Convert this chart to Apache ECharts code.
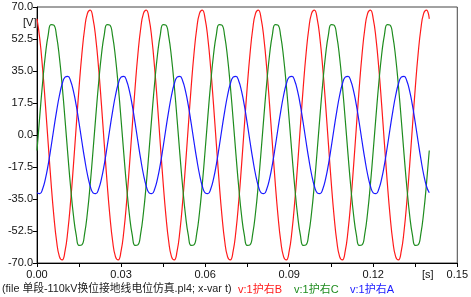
<!DOCTYPE html>
<html>
<head>
<meta charset="utf-8">
<script src="https://cdn.jsdelivr.net/npm/echarts@6/dist/echarts.min.js"></script>
<style>
html,body{margin:0;padding:0;background:#fff;}
#chart{width:471px;height:297px;}
</style>
</head>
<body>
<div id="chart"></div>
<script>
// sampling grid of the traces (seconds)
const sampleStep = 0.001;
const sampleCount = 141;

// v:1护右B (red)
const seriesB = [
  63.5,52.5,36.3,16.6,-4.8,-25.7,-44.0,-58.1,-66.5,-68.3,-63.5,-52.5,-36.3,-16.6,4.8,25.7,44.0,58.1,66.5,68.3,
  63.5,52.5,36.3,16.6,-4.8,-25.7,-44.0,-58.1,-66.5,-68.3,-63.5,-52.5,-36.3,-16.6,4.8,25.7,44.0,58.1,66.5,68.3,
  63.5,52.5,36.3,16.6,-4.8,-25.7,-44.0,-58.1,-66.5,-68.3,-63.5,-52.5,-36.3,-16.6,4.8,25.7,44.0,58.1,66.5,68.3,
  63.5,52.5,36.3,16.6,-4.8,-25.7,-44.0,-58.1,-66.5,-68.3,-63.5,-52.5,-36.3,-16.6,4.8,25.7,44.0,58.1,66.5,68.3,
  63.5,52.5,36.3,16.6,-4.8,-25.7,-44.0,-58.1,-66.5,-68.3,-63.5,-52.5,-36.3,-16.6,4.8,25.7,44.0,58.1,66.5,68.3,
  63.5,52.5,36.3,16.6,-4.8,-25.7,-44.0,-58.1,-66.5,-68.3,-63.5,-52.5,-36.3,-16.6,4.8,25.7,44.0,58.1,66.5,68.3,
  63.5,52.5,36.3,16.6,-4.8,-25.7,-44.0,-58.1,-66.5,-68.3,-63.5,-52.5,-36.3,-16.6,4.8,25.7,44.0,58.1,66.5,68.3,
  63.5
];
// v:1护右C (green)
const seriesC = [
  -8.5,10.6,28.6,43.9,54.8,60.4,60.1,53.9,42.4,26.7,8.5,-10.6,-28.6,-43.9,-54.8,-60.4,-60.1,-53.9,-42.4,-26.7,
  -8.5,10.6,28.6,43.9,54.8,60.4,60.1,53.9,42.4,26.7,8.5,-10.6,-28.6,-43.9,-54.8,-60.4,-60.1,-53.9,-42.4,-26.7,
  -8.5,10.6,28.6,43.9,54.8,60.4,60.1,53.9,42.4,26.7,8.5,-10.6,-28.6,-43.9,-54.8,-60.4,-60.1,-53.9,-42.4,-26.7,
  -8.5,10.6,28.6,43.9,54.8,60.4,60.1,53.9,42.4,26.7,8.5,-10.6,-28.6,-43.9,-54.8,-60.4,-60.1,-53.9,-42.4,-26.7,
  -8.5,10.6,28.6,43.9,54.8,60.4,60.1,53.9,42.4,26.7,8.5,-10.6,-28.6,-43.9,-54.8,-60.4,-60.1,-53.9,-42.4,-26.7,
  -8.5,10.6,28.6,43.9,54.8,60.4,60.1,53.9,42.4,26.7,8.5,-10.6,-28.6,-43.9,-54.8,-60.4,-60.1,-53.9,-42.4,-26.7,
  -8.5,10.6,28.6,43.9,54.8,60.4,60.1,53.9,42.4,26.7,8.5,-10.6,-28.6,-43.9,-54.8,-60.4,-60.1,-53.9,-42.4,-26.7,
  -8.5
];
// v:1护右A (blue)
const seriesA = [
  -31.6,-32.1,-29.5,-24.0,-16.2,-6.7,3.4,13.1,21.6,28.0,31.6,32.1,29.5,24.0,16.2,6.7,-3.4,-13.1,-21.6,-28.0,
  -31.6,-32.1,-29.5,-24.0,-16.2,-6.7,3.4,13.1,21.6,28.0,31.6,32.1,29.5,24.0,16.2,6.7,-3.4,-13.1,-21.6,-28.0,
  -31.6,-32.1,-29.5,-24.0,-16.2,-6.7,3.4,13.1,21.6,28.0,31.6,32.1,29.5,24.0,16.2,6.7,-3.4,-13.1,-21.6,-28.0,
  -31.6,-32.1,-29.5,-24.0,-16.2,-6.7,3.4,13.1,21.6,28.0,31.6,32.1,29.5,24.0,16.2,6.7,-3.4,-13.1,-21.6,-28.0,
  -31.6,-32.1,-29.5,-24.0,-16.2,-6.7,3.4,13.1,21.6,28.0,31.6,32.1,29.5,24.0,16.2,6.7,-3.4,-13.1,-21.6,-28.0,
  -31.6,-32.1,-29.5,-24.0,-16.2,-6.7,3.4,13.1,21.6,28.0,31.6,32.1,29.5,24.0,16.2,6.7,-3.4,-13.1,-21.6,-28.0,
  -31.6,-32.1,-29.5,-24.0,-16.2,-6.7,3.4,13.1,21.6,28.0,31.6,32.1,29.5,24.0,16.2,6.7,-3.4,-13.1,-21.6,-28.0,
  -31.6
];

const seriesNames = ['v:1护右B', 'v:1护右C', 'v:1护右A'];
const seriesColors = ['#ff1a1a', '#1e8c1e', '#1a1aff'];
const xTicks = [0, 0.15, 0.015];     // min, max, tick step
const yTicks = [-70, 70, 17.5];
const fileText = '(file 单段-110kV换位接地线电位仿真.pl4; x-var t)';
const yUnit = '[V]';
const xUnit = '[s]';

const font = "'Liberation Sans', Arial, 'Noto Sans CJK SC', sans-serif";

function pairs(vals) {
  const out = [];
  for (let i = 0; i < sampleCount; i++) out.push([+(i * sampleStep).toFixed(3), vals[i]]);
  return out;
}

const chart = echarts.init(document.getElementById('chart'), null, {renderer: 'canvas'});
const option = {
  animation: false,
  backgroundColor: '#fff',
  grid: {left: 37, right: 12, top: 7, bottom: 34, show: true, borderColor: '#444', borderWidth: 1, backgroundColor: 'transparent'},
  xAxis: {
    type: 'value', min: xTicks[0], max: xTicks[1], interval: xTicks[2],
    axisLine: {show: true, onZero: false, lineStyle: {color: '#000', width: 1}},
    axisTick: {show: true, inside: false, length: 4, lineStyle: {color: '#000'}},
    splitLine: {show: false},
    axisLabel: {
      color: '#111', fontSize: 11, fontFamily: font, margin: 6, showMaxLabel: true, showMinLabel: true,
      formatter: function (v) {
        const k = Math.round(v / xTicks[2]);
        return k % 2 === 0 ? v.toFixed(2) : '';
      }
    }
  },
  yAxis: {
    type: 'value', min: yTicks[0], max: yTicks[1], interval: yTicks[2],
    axisLine: {show: true, onZero: false, lineStyle: {color: '#000', width: 1}},
    axisTick: {show: true, inside: false, length: 4, lineStyle: {color: '#000'}},
    splitLine: {show: false},
    axisLabel: {color: '#111', fontSize: 11, fontFamily: font, margin: 4, formatter: v => v.toFixed(1)}
  },
  graphic: [
    {type: 'text', left: 23, top: 17, style: {text: yUnit, fill: '#111', font: '11px ' + font}, z: 10},
    {type: 'text', left: 422, top: 269, style: {text: xUnit, fill: '#111', font: '11px ' + font}},
    {type: 'text', left: 2, top: 284, style: {text: fileText, fill: '#222', font: '10.8px ' + font}},
    {type: 'text', left: 238, top: 284, style: {text: seriesNames[0], fill: seriesColors[0], font: '11px ' + font}},
    {type: 'text', left: 294, top: 284, style: {text: seriesNames[1], fill: seriesColors[1], font: '11px ' + font}},
    {type: 'text', left: 350, top: 284, style: {text: seriesNames[2], fill: seriesColors[2], font: '11px ' + font}}
  ],
  series: [seriesB, seriesC, seriesA].map((vals, i) => ({
    name: seriesNames[i], type: 'line', data: pairs(vals), showSymbol: false, smooth: 0.5,
    lineStyle: {color: seriesColors[i], width: 1.2}, itemStyle: {color: seriesColors[i]}, z: 2 + i
  }))
};
chart.setOption(option);
</script>
</body>
</html>
